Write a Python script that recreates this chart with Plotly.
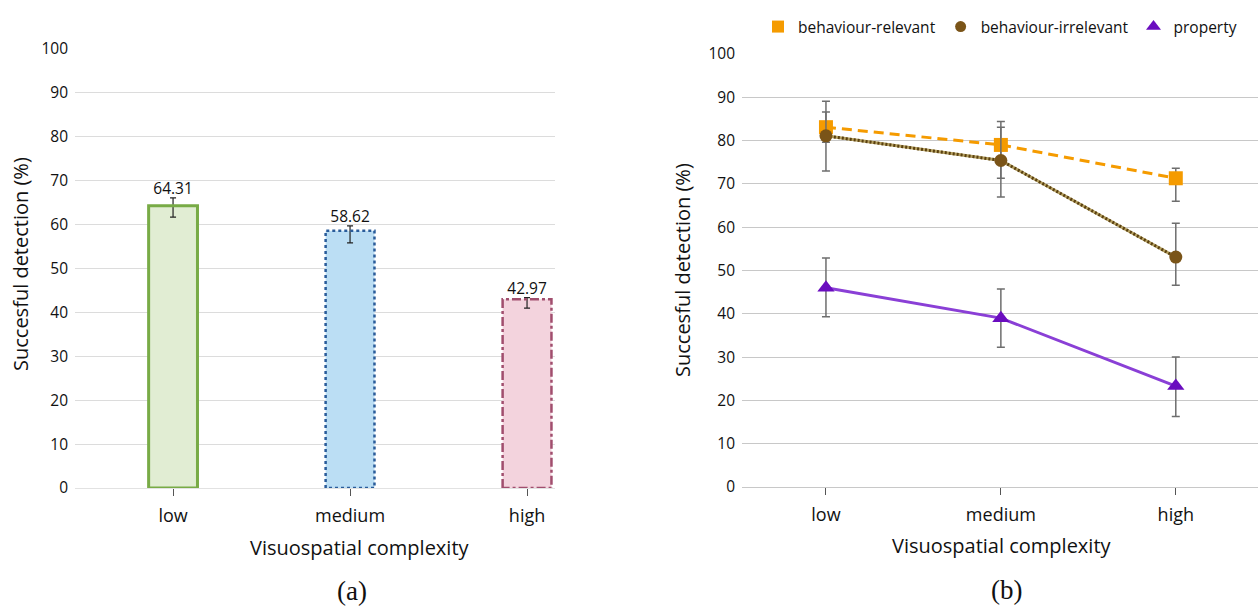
import plotly.graph_objects as go

W, H = 1258, 607

# ---------------- data ----------------
categories = ["low", "medium", "high"]

# (a) bar chart
bar_values = [64.31, 58.62, 42.97]
bar_labels = ["64.31", "58.62", "42.97"]
bar_err_plus = [1.8, 1.1, 0.4]
bar_err_minus = [2.6, 2.8, 2.0]
bar_fill = ["#E1EDD3", "#BBDEF4", "#F3D3DD"]
bar_edge = ["#78AB46", "#2A5C9A", "#A14E6E"]
bar_dash = ["solid", "dot", "dashdot"]
bar_edge_w = [3, 2.5, 2.5]

# (b) line chart
rel_values = [83.1, 79.0, 71.3]
rel_err_plus = [3.5, 4.1, 2.3]
rel_err_minus = [3.5, 7.7, 5.3]

irr_values = [81.1, 75.4, 53.1]
irr_err_plus = [8.0, 9.0, 7.8]
irr_err_minus = [8.1, 8.4, 6.5]

prop_values = [46.0, 39.0, 23.3]
prop_err_plus = [6.9, 6.7, 6.7]
prop_err_minus = [6.7, 6.7, 7.0]

yticks = [0, 10, 20, 30, 40, 50, 60, 70, 80, 90, 100]

FONT = "Open Sans"
idx = list(range(len(categories)))
half_w = 0.138

fig = go.Figure()

# ---------- (a) bars ----------
fig.add_trace(go.Bar(
    x=idx, y=bar_values, width=2 * half_w,
    marker=dict(color=bar_fill, line=dict(width=0)),
    error_y=dict(type="data", symmetric=False, array=bar_err_plus, arrayminus=bar_err_minus,
                 color="#222222", thickness=1.2, width=3),
    xaxis="x", yaxis="y", showlegend=False, hoverinfo="skip",
))
for i, v in enumerate(bar_values):
    fig.add_trace(go.Scatter(
        x=[i - half_w, i - half_w, i + half_w, i + half_w, i - half_w],
        y=[0, v, v, 0, 0], mode="lines",
        line=dict(color=bar_edge[i], width=bar_edge_w[i], dash=bar_dash[i]),
        xaxis="x", yaxis="y", showlegend=False, hoverinfo="skip",
    ))
fig.add_trace(go.Scatter(
    x=idx, y=[v + e for v, e in zip(bar_values, bar_err_plus)],
    mode="text", text=bar_labels, textposition="top center",
    textfont=dict(family=FONT, size=15.5, color="#111111"),
    xaxis="x", yaxis="y", showlegend=False, hoverinfo="skip",
))

# ---------- (b) lines ----------
ebar = dict(color="#6E6E6E", thickness=1.5, width=4)
fig.add_trace(go.Scatter(
    x=idx, y=prop_values, mode="lines+markers",
    line=dict(color="#8A3FD6", width=3),
    marker=dict(symbol="triangle-up", size=15, color="#6A0DBF"),
    error_y=dict(type="data", symmetric=False, array=prop_err_plus, arrayminus=prop_err_minus, **ebar),
    xaxis="x2", yaxis="y2", showlegend=False, hoverinfo="skip",
))
fig.add_trace(go.Scatter(
    x=idx, y=rel_values, mode="lines+markers",
    line=dict(color="#F59B00", width=3, dash="10px,6px"),
    marker=dict(symbol="square", size=14, color="#F59B00"),
    error_y=dict(type="data", symmetric=False, array=rel_err_plus, arrayminus=rel_err_minus, **ebar),
    xaxis="x2", yaxis="y2", showlegend=False, hoverinfo="skip",
))
fig.add_trace(go.Scatter(
    x=idx, y=irr_values, mode="lines",
    line=dict(color="#B5A060", width=3),
    xaxis="x2", yaxis="y2", showlegend=False, hoverinfo="skip",
))
fig.add_trace(go.Scatter(
    x=idx, y=irr_values, mode="lines+markers",
    line=dict(color="#5A4010", width=3, dash="2px,2px"),
    marker=dict(symbol="circle", size=13, color="#7A5418"),
    error_y=dict(type="data", symmetric=False, array=irr_err_plus, arrayminus=irr_err_minus, **ebar),
    xaxis="x2", yaxis="y2", showlegend=False, hoverinfo="skip",
))

# legend-only entries
for name, sym, col, sz in [("behaviour-relevant", "square", "#F59B00", 12),
                           ("behaviour-irrelevant", "circle", "#7A5418", 11),
                           ("property", "triangle-up", "#6A0DBF", 13)]:
    fig.add_trace(go.Scatter(
        x=[None], y=[None], mode="markers", name=name,
        marker=dict(symbol=sym, size=sz, color=col),
        xaxis="x2", yaxis="y2", showlegend=True,
    ))

def px(x):
    return x / W

def py(y):
    return 1 - y / H

common_y = dict(range=[0, 100], tickvals=yticks, showgrid=True, zeroline=False,
                showline=False, ticks="", ticklabelstandoff=6, automargin=False,
                tickfont=dict(family=FONT, size=15.5, color="#111111"))
common_x = dict(tickvals=idx, ticktext=categories, showgrid=False, zeroline=False,
                ticks="outside", ticklen=7, tickcolor="#555555", tickwidth=1,
                showline=True, linewidth=1, automargin=False, ticklabelstandoff=4,
                tickfont=dict(family=FONT, size=18, color="#111111"))

fig.update_layout(
    width=W, height=H,
    margin=dict(l=0, r=0, t=0, b=0, autoexpand=False),
    paper_bgcolor="white", plot_bgcolor="white",
    xaxis=dict(domain=[px(75), px(555)], range=[-0.554, 2.158], anchor="y",
               linecolor="#E2E2E2", **common_x),
    yaxis=dict(domain=[py(488), py(49)], anchor="x", gridcolor="#DCDCDC", **common_y),
    xaxis2=dict(domain=[px(742), px(1258)], range=[-0.48, 2.47], anchor="y2",
                linecolor="#C8C8C8", **common_x),
    yaxis2=dict(domain=[py(487), py(54)], anchor="x2", gridcolor="#C8C8C8", **common_y),
    legend=dict(orientation="h", x=px(758), y=py(27), xanchor="left", yanchor="middle",
                font=dict(family=FONT, size=15.5, color="#111111"),
                itemwidth=30, bgcolor="rgba(0,0,0,0)"),
    annotations=[
        dict(text="Succesful detection (%)", x=px(20), y=py(264), xref="paper", yref="paper",
             xanchor="center", yanchor="middle",
             textangle=-90, showarrow=False, font=dict(family=FONT, size=20, color="#111111")),
        dict(text="Succesful detection (%)", x=px(683), y=py(270), xref="paper", yref="paper",
             xanchor="center", yanchor="middle",
             textangle=-90, showarrow=False, font=dict(family=FONT, size=20, color="#111111")),
        dict(text="Visuospatial complexity", x=px(360), y=py(547), xref="paper", yref="paper",
             xanchor="center", yanchor="middle",
             showarrow=False, font=dict(family=FONT, size=20, color="#111111")),
        dict(text="Visuospatial complexity", x=px(1002), y=py(545), xref="paper", yref="paper",
             xanchor="center", yanchor="middle",
             showarrow=False, font=dict(family=FONT, size=20, color="#111111")),
        dict(text="(a)", x=px(352), y=py(591), xref="paper", yref="paper",
             xanchor="center", yanchor="middle",
             showarrow=False, font=dict(family="Liberation Serif", size=27, color="#111111")),
        dict(text="(b)", x=px(1006), y=py(590), xref="paper", yref="paper",
             xanchor="center", yanchor="middle",
             showarrow=False, font=dict(family="Liberation Serif", size=27, color="#111111")),
    ],
)

fig.write_html("out.html")
